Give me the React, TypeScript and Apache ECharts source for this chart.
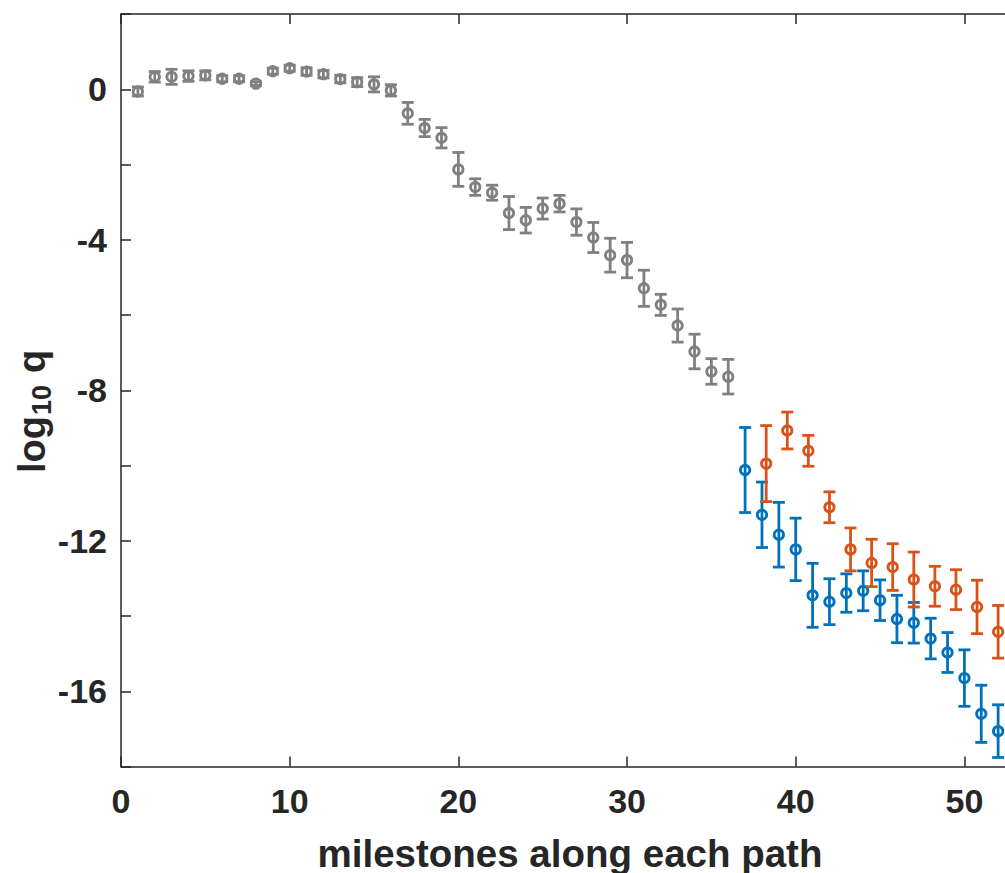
import React, { useEffect, useRef } from "react";
import * as echarts from "echarts";

// gray path: milestones 1..36
const grayX = [1,2,3,4,5,6,7,8,9,10,11,12,13,14,15,16,17,18,19,20,21,22,23,24,25,26,27,28,29,30,31,32,33,34,35,36];
const grayY = [-0.06,0.33,0.33,0.35,0.37,0.28,0.28,0.15,0.48,0.56,0.47,0.40,0.27,0.19,0.13,-0.03,-0.64,-1.03,-1.29,-2.13,-2.60,-2.75,-3.29,-3.48,-3.17,-3.04,-3.53,-3.94,-4.41,-4.54,-5.29,-5.73,-6.28,-6.97,-7.50,-7.64];
const grayErr = [0.12,0.14,0.2,0.14,0.12,0.08,0.08,0.05,0.08,0.08,0.1,0.1,0.1,0.12,0.2,0.15,0.29,0.23,0.27,0.45,0.22,0.2,0.44,0.34,0.28,0.22,0.35,0.4,0.45,0.47,0.48,0.28,0.44,0.46,0.34,0.46];

// blue path: milestones 37..52
const blueX = [37,38,39,40,41,42,43,44,45,46,47,48,49,50,51,52];
const blueY = [-10.12,-11.31,-11.84,-12.23,-13.45,-13.62,-13.39,-13.33,-13.58,-14.08,-14.18,-14.60,-14.97,-15.65,-16.60,-17.06];
const blueErr = [1.13,0.87,0.86,0.83,0.85,0.61,0.51,0.53,0.54,0.63,0.54,0.54,0.53,0.75,0.76,0.70];

// orange path
const orangeX = [38.25,39.5,40.75,42,43.25,44.5,45.75,47,48.25,49.5,50.75,52];
const orangeY = [-9.95,-9.07,-9.61,-11.11,-12.23,-12.59,-12.70,-13.03,-13.21,-13.30,-13.76,-14.42];
const orangeErr = [1.01,0.49,0.41,0.41,0.57,0.63,0.62,0.73,0.53,0.53,0.71,0.70];

const xTicks = [0, 10, 20, 30, 40, 50];
const yLabelValues = [0, -4, -8, -12, -16];

const FONT = '"Liberation Sans", Arial, Helvetica, sans-serif';
const AXIS_COLOR = "#262626";

function makeRender(color: string) {
  return (params: any, api: any) => {
    const x = api.value(0);
    const y = api.value(1);
    const e = api.value(2);
    const c = api.coord([x, y]);
    const t = api.coord([x, y + e]);
    const b = api.coord([x, y - e]);
    const lw = 2.8;
    const cw = 6;
    const st = { stroke: color, lineWidth: lw, fill: "none" };
    return {
      type: "group",
      children: [
        { type: "line", shape: { x1: c[0], y1: t[1], x2: c[0], y2: b[1] }, style: st },
        { type: "line", shape: { x1: c[0] - cw, y1: t[1], x2: c[0] + cw, y2: t[1] }, style: st },
        { type: "line", shape: { x1: c[0] - cw, y1: b[1], x2: c[0] + cw, y2: b[1] }, style: st },
        { type: "circle", shape: { cx: c[0], cy: c[1], r: 4.7 }, style: st },
      ],
    };
  };
}

function build(xs: number[], ys: number[], es: number[]) {
  return xs.map((x, i) => [x, ys[i], es[i]]);
}

export default function App() {
  const ref = useRef<HTMLDivElement>(null);
  useEffect(() => {
    if (!ref.current) return;
    const chart = echarts.init(ref.current, undefined, { renderer: "svg" });
    const axisLine = { show: true, onZero: false, lineStyle: { color: AXIS_COLOR, width: 1.5 } };
    const axisTick = { show: true, inside: true, length: 10, lineStyle: { color: AXIS_COLOR, width: 1.5 } };
    chart.setOption({
      animation: false,
      backgroundColor: "#ffffff",
      grid: { left: 121, top: 14, width: 894, height: 752.5, containLabel: false },
      xAxis: [
        {
          type: "value", min: 0, max: 53, interval: 10, position: "bottom",
          axisLine, axisTick, splitLine: { show: false },
          axisLabel: {
            fontSize: 34, fontWeight: "bold", fontFamily: FONT, color: AXIS_COLOR, margin: 17,
            showMaxLabel: false,
            formatter: (v: number) => (xTicks.includes(v) ? String(v) : ""),
          },
        },
        {
          type: "value", min: 0, max: 53, interval: 10, position: "top",
          axisLine, axisTick, splitLine: { show: false }, axisLabel: { show: false },
        },
      ],
      yAxis: [
        {
          type: "value", min: -18, max: 2, interval: 2, position: "left",
          axisLine, axisTick, splitLine: { show: false },
          axisLabel: {
            fontSize: 34, fontWeight: "bold", fontFamily: FONT, color: AXIS_COLOR, margin: 14,
            formatter: (v: number) => (yLabelValues.includes(v) ? String(v) : ""),
          },
        },
        {
          type: "value", min: -18, max: 2, interval: 2, position: "right",
          axisLine, axisTick, splitLine: { show: false }, axisLabel: { show: false },
        },
      ],
      series: [
        { type: "custom", name: "gray", renderItem: makeRender("#808080"), data: build(grayX, grayY, grayErr), encode: { x: 0, y: 1 }, clip: false, z: 2 },
        { type: "custom", name: "blue", renderItem: makeRender("#0072BD"), data: build(blueX, blueY, blueErr), encode: { x: 0, y: 1 }, clip: false, z: 3 },
        { type: "custom", name: "orange", renderItem: makeRender("#D95319"), data: build(orangeX, orangeY, orangeErr), encode: { x: 0, y: 1 }, clip: false, z: 4 },
      ],
      graphic: [
        {
          type: "text", x: 570, y: 853,
          style: {
            text: "milestones along each path", fontSize: 38.5, fontWeight: "bold", fontFamily: FONT,
            fill: AXIS_COLOR, align: "center", verticalAlign: "middle",
          },
        },
        {
          type: "group", x: 32, y: 473, rotation: Math.PI / 2,
          children: [
            { type: "text", x: 0, y: 0, style: { text: "log", fontSize: 38, fontWeight: "bold", fontFamily: FONT, fill: AXIS_COLOR, align: "left", verticalAlign: "middle" } },
            { type: "text", x: 58, y: 10, style: { text: "10", fontSize: 27, fontWeight: "bold", fontFamily: FONT, fill: AXIS_COLOR, align: "left", verticalAlign: "middle" } },
            { type: "text", x: 100, y: 0, style: { text: "q", fontSize: 38, fontWeight: "bold", fontFamily: FONT, fill: AXIS_COLOR, align: "left", verticalAlign: "middle" } },
          ],
        },
      ],
    });
    return () => chart.dispose();
  }, []);
  return (
    <div style={{ position: "fixed", left: 0, top: 0, width: 1005, height: 873, overflow: "hidden", background: "#fff" }}>
      <div ref={ref} style={{ position: "absolute", left: 0, top: 0, width: 1040, height: 873 }} />
    </div>
  );
}
